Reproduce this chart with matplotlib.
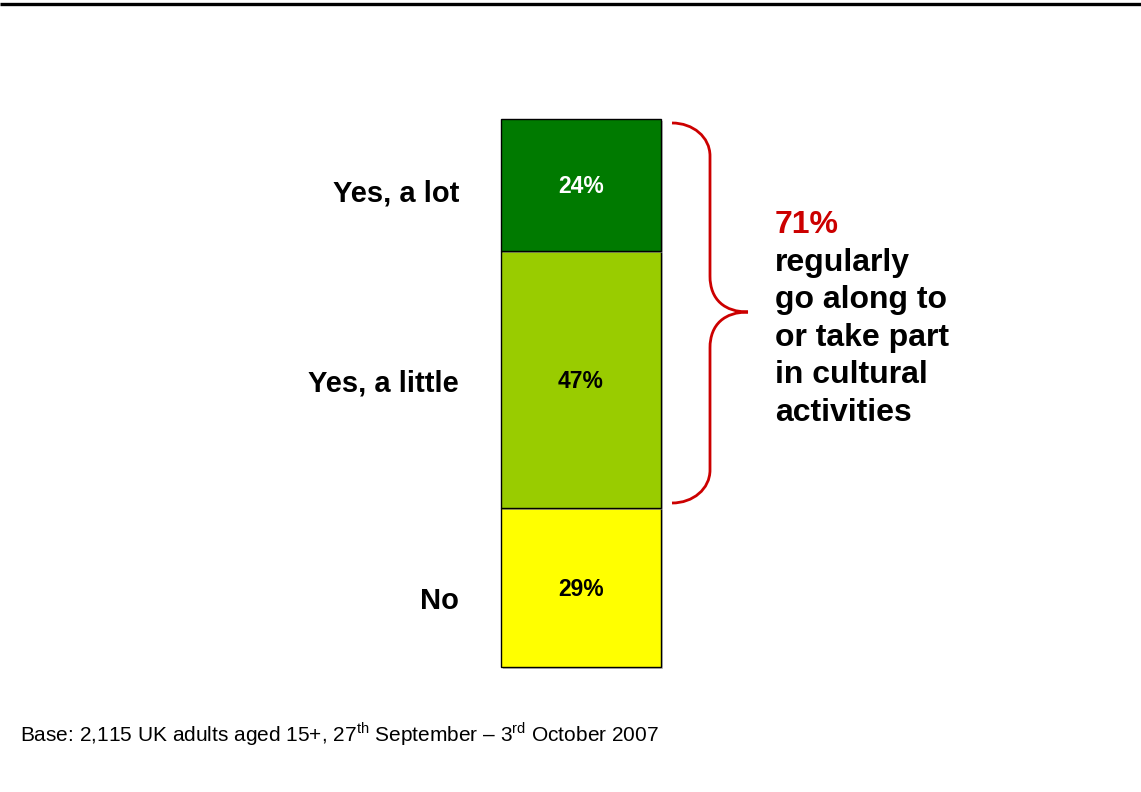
import matplotlib
matplotlib.use("Agg")
import matplotlib.pyplot as plt
from matplotlib.path import Path
from matplotlib.patches import PathPatch
from matplotlib import patheffects as pe
from matplotlib.transforms import offset_copy

plt.rcParams['font.family'] = ['Liberation Sans', 'DejaVu Sans']
plt.rcParams['mathtext.fontset'] = 'custom'
plt.rcParams['mathtext.rm'] = 'Liberation Sans'

# Survey answers, stacked from the bottom of the bar upwards
categories = ["No", "Yes, a little", "Yes, a lot"]
values = [29, 47, 24]
colors = ["#FFFF00", "#99CC00", "#007A00"]
value_colors = ["black", "black", "white"]

summary_value = "71%"
summary_lines = ["regularly", "go along to", "or take part", "in cultural", "activities"]
footnote = r"Base: 2,115 UK adults aged 15+, 27$^{\rm th}$ September – 3$^{\rm rd}$ October 2007"

W, H = 1141, 792
fig = plt.figure(figsize=(W / 100, H / 100), dpi=100)

# Full-figure overlay in pixel units for labels and the brace
ov = fig.add_axes([0, 0, 1, 1])
ov.set_xlim(0, W)
ov.set_ylim(H, 0)
ov.axis("off")

# Rule across the top of the page
ov.plot([0, W], [4, 4], color="black", lw=2.4, solid_capstyle="butt")

# The stacked bar
ax = fig.add_axes([501 / W, (H - 667) / H, 160 / W, 548 / H])
ax.set_xlim(-0.5, 0.5)
ax.set_ylim(0, 100)
ax.axis("off")

label_tr = offset_copy(ax.transData, fig=fig, x=0, y=-2, units="dots")
bottom = 0
for cat, val, col, tcol in zip(categories, values, colors, value_colors):
    bars = ax.bar(0, val, width=1.0, bottom=bottom, color=col, edgecolor="black",
                  linewidth=1.0, zorder=3,
                  path_effects=[pe.SimplePatchShadow(offset=(1.5, -1.5), shadow_rgbFace="#999999", alpha=0.6),
                                pe.Normal()])
    for b in bars:
        b.set_clip_on(False)
    ax.text(0, bottom + val / 2, f"{val}%", ha="center", va="center",
            fontsize=16.5, fontweight="bold", color=tcol, zorder=4,
            transform=label_tr)
    bottom += val

# Category labels to the left of the bar
label_y = {"Yes, a lot": 194, "Yes, a little": 384, "No": 601}
for cat in categories:
    ov.text(459, label_y[cat], cat, ha="right", va="center",
            fontsize=21, fontweight="bold", color="black")

# Curly brace grouping the two "Yes" answers
red = "#CC0000"
verts = [
    (672, 123), (693, 123), (710, 137), (710, 156),
    (710, 276),
    (710, 300), (725, 312), (748, 312),
    (725, 312), (710, 324), (710, 348),
    (710, 470),
    (710, 489), (693, 503), (672, 503),
]
codes = [Path.MOVETO, Path.CURVE4, Path.CURVE4, Path.CURVE4,
         Path.LINETO,
         Path.CURVE4, Path.CURVE4, Path.CURVE4,
         Path.CURVE4, Path.CURVE4, Path.CURVE4,
         Path.LINETO,
         Path.CURVE4, Path.CURVE4, Path.CURVE4]
ov.add_patch(PathPatch(Path(verts, codes), facecolor="none", edgecolor=red,
                       lw=2.0, capstyle="butt"))

# Summary text next to the brace
ov.text(775, 233, summary_value, ha="left", va="baseline",
        fontsize=23, fontweight="bold", color=red)
for i, line in enumerate(summary_lines):
    ov.text(775, 233 + 37.6 * (i + 1), line, ha="left", va="baseline",
            fontsize=23, fontweight="bold", color="black")

# Footnote
ov.text(20, 742, footnote, ha="left", va="baseline", fontsize=15, color="black")

fig.savefig("out.png", dpi=100)
